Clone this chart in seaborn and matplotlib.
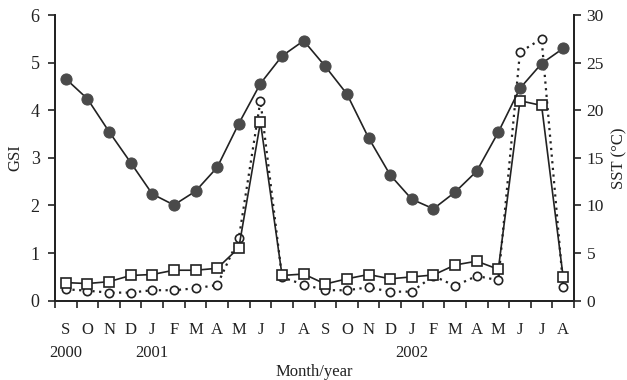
import numpy as np
import pandas as pd
import matplotlib
matplotlib.use('Agg')
import matplotlib.pyplot as plt
import seaborn as sns

# monthly data, Sep 2000 - Aug 2002
months = ['S', 'O', 'N', 'D', 'J', 'F', 'M', 'A', 'M', 'J', 'J', 'A',
          'S', 'O', 'N', 'D', 'J', 'F', 'M', 'A', 'M', 'J', 'J', 'A']
years = {0: '2000', 4: '2001', 16: '2002'}

sst = [23.3, 21.2, 17.75, 14.5, 11.2, 10.05, 11.5, 14.0, 18.6, 22.8, 25.7, 27.3,
       24.6, 21.7, 17.1, 13.2, 10.65, 9.65, 11.4, 13.6, 17.7, 22.3, 24.9, 26.5]
gsi_sq = [0.38, 0.36, 0.40, 0.53, 0.55, 0.64, 0.64, 0.68, 1.11, 3.75, 0.53, 0.56,
          0.35, 0.46, 0.55, 0.46, 0.50, 0.54, 0.75, 0.83, 0.66, 4.20, 4.10, 0.49]
gsi_ci = [0.24, 0.21, 0.17, 0.17, 0.22, 0.22, 0.26, 0.33, 1.31, 4.20, 0.49, 0.34,
          0.22, 0.22, 0.28, 0.19, 0.19, 0.52, 0.31, 0.52, 0.43, 5.22, 5.50, 0.29]

df = pd.DataFrame({'x': np.arange(len(months)) + 0.5,
                   'sst': sst, 'sq': gsi_sq, 'ci': gsi_ci})

sns.set_style('white')
plt.rcParams['font.family'] = ['Liberation Serif', 'DejaVu Serif']

fig = plt.figure(figsize=(6.27, 3.8), dpi=100)
ax = fig.add_axes([0.0877, 0.2087, 0.8278, 0.7518])
ax2 = ax.twinx()

ink = '#222222'
sns.lineplot(data=df, x='x', y='ci', ax=ax, color=ink, linestyle=(0, (1, 2)),
             lw=1.6, marker='o', markersize=6, markerfacecolor='white',
             markeredgecolor=ink, markeredgewidth=1.2, zorder=3)
sns.lineplot(data=df, x='x', y='sq', ax=ax, color=ink, lw=1.2,
             marker='s', markersize=6.5, markerfacecolor='white',
             markeredgecolor=ink, markeredgewidth=1.2, zorder=4)
sns.lineplot(data=df, x='x', y='sst', ax=ax2, color=ink, lw=1.2,
             marker='o', markersize=8, markerfacecolor='#4a4a4a',
             markeredgecolor='#4a4a4a', zorder=2)

ax.set_xlim(0, 24)
ax.set_ylim(0, 6)
ax2.set_ylim(0, 30)
ax.set_yticks(range(0, 7))
ax2.set_yticks(range(0, 31, 5))

ax.set_xticks(range(0, 25))
ax.set_xticklabels([])
labels = [m + ('\n' + years[i] if i in years else '') for i, m in enumerate(months)]
ax.set_xticks(df['x'], minor=True)
ax.set_xticklabels(labels, minor=True, fontsize=12)
for lab in ax.get_xticklabels(minor=True):
    lab.set_linespacing(1.6)
    lab.set_va('top')
ax.tick_params(axis='x', which='major', direction='out', length=5, width=1.2,
               color=ink, bottom=True)
ax.tick_params(axis='x', which='minor', length=0, pad=15, colors=ink)
ax.tick_params(axis='y', direction='out', length=5, width=1.2, color=ink,
               left=True, labelsize=13, labelcolor=ink, pad=6)
ax2.tick_params(axis='y', direction='out', length=5, width=1.2, color=ink,
                right=True, labelsize=12.5, labelcolor=ink, pad=4)

for a in (ax, ax2):
    a.spines['top'].set_visible(False)
    for s in ('left', 'right', 'bottom'):
        a.spines[s].set_color(ink)
        a.spines[s].set_linewidth(1.3)

ax.set_xlabel('Month/year', fontsize=12, color=ink, va='center')
ax.xaxis.set_label_coords(0.5, -0.25)
ax.set_ylabel('GSI', fontsize=12, color=ink, va='center')
ax.yaxis.set_label_coords(-0.077, 0.5)
ax2.set_ylabel('SST (°C)', fontsize=12, color=ink, va='center')
ax2.yaxis.set_label_coords(1.088, 0.5)
ax.grid(False)
ax2.grid(False)

fig.savefig('out.png', dpi=100)
